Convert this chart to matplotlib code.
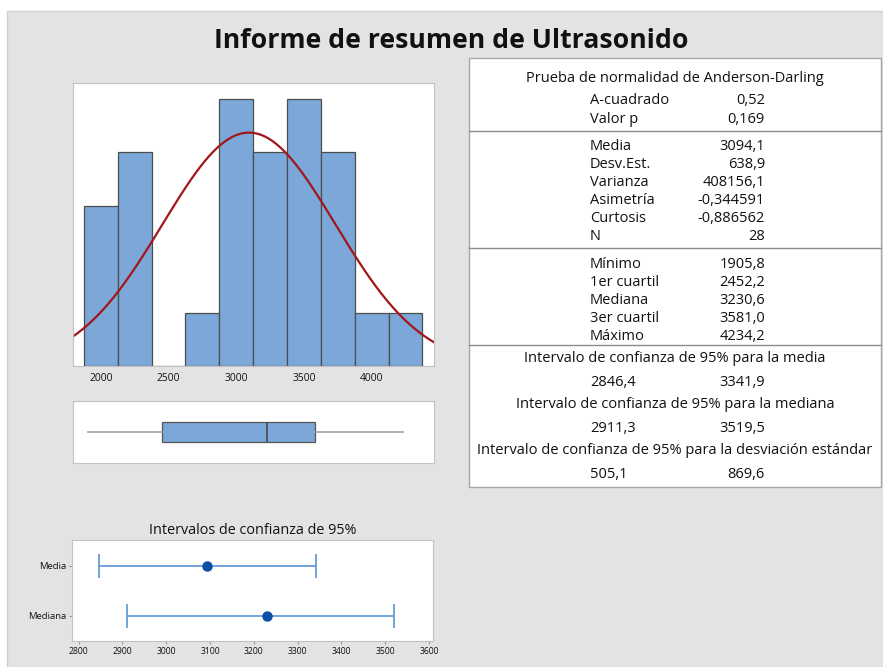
import numpy as np
import matplotlib
matplotlib.use("Agg")
import matplotlib.pyplot as plt
from matplotlib.patches import Rectangle

plt.rcParams['font.family'] = ['Open Sans', 'DejaVu Sans']

W, H = 883, 667

# Histogram (bins of 250)
bin_centers = [2000, 2250, 2500, 2750, 3000, 3250, 3500, 3750, 4000, 4250]
counts = [3, 4, 0, 1, 5, 4, 5, 4, 1, 1]
bin_width = 250

# summary stats
n_obs = 28
media = 3094.1
desv_est = 638.9
minimo, q1, mediana, q3, maximo = 1905.8, 2452.2, 3230.6, 3581.0, 4234.2
ic_media = (2846.4, 3341.9)
ic_mediana = (2911.3, 3519.5)

# table text
ad_rows = [("A-cuadrado", "0,52"), ("Valor p", "0,169")]
desc_rows = [("Media", "3094,1"), ("Desv.Est.", "638,9"), ("Varianza", "408156,1"),
             ("Asimetría", "-0,344591"), ("Curtosis", "-0,886562"), ("N", "28")]
quart_rows = [("Mínimo", "1905,8"), ("1er cuartil", "2452,2"), ("Mediana", "3230,6"),
              ("3er cuartil", "3581,0"), ("Máximo", "4234,2")]
ci_rows = [("Intervalo de confianza de 95% para la media", "2846,4", "3341,9"),
           ("Intervalo de confianza de 95% para la mediana", "2911,3", "3519,5"),
           ("Intervalo de confianza de 95% para la desviación estándar", "505,1", "869,6")]

ci_labels = ["Media", "Mediana"]

txt = '#111111'
bar_col = '#7ba7d9'
frame_col = '#c2c2c2'

fig = plt.figure(figsize=(W / 100, H / 100), dpi=100)


def px_axes(l, t, r, b, **kw):
    return fig.add_axes([l / W, 1 - b / H, (r - l) / W, (b - t) / H], **kw)


# background / title / table layer (pixel coords)
bg = fig.add_axes([0, 0, 1, 1], zorder=-1)
bg.set_xlim(0, W)
bg.set_ylim(H, 0)
bg.axis('off')
bg.add_patch(Rectangle((7, 11), W - 7, H - 11, facecolor='#e3e3e3',
                       edgecolor='#d0d0d0', lw=1))
bg.text(451, 41, "Informe de resumen de Ultrasonido", ha='center', va='center',
        fontsize=19.2, fontweight='bold', color=txt)

tl, tr = 469, 881
bg.add_patch(Rectangle((tl, 58), tr - tl, 429, facecolor='white',
                       edgecolor='#a6a6a6', lw=1))
fs = 10.5
lab_x, val_x, mid_x = 590, 765, 675
step = 18.2

bg.text(mid_x, 78, "Prueba de normalidad de Anderson-Darling", ha='center',
        va='center', fontsize=fs, color=txt)
for i, (k, v) in enumerate(ad_rows):
    y = 101 + i * step
    bg.text(lab_x, y, k, ha='left', va='center', fontsize=fs, color=txt)
    bg.text(val_x, y, v, ha='right', va='center', fontsize=fs, color=txt)
for i, (k, v) in enumerate(desc_rows):
    y = 146 + i * step
    bg.text(lab_x, y, k, ha='left', va='center', fontsize=fs, color=txt)
    bg.text(val_x, y, v, ha='right', va='center', fontsize=fs, color=txt)
for i, (k, v) in enumerate(quart_rows):
    y = 264 + i * step
    bg.text(lab_x, y, k, ha='left', va='center', fontsize=fs, color=txt)
    bg.text(val_x, y, v, ha='right', va='center', fontsize=fs, color=txt)
for i, (head, lo, hi) in enumerate(ci_rows):
    y = 359 + i * 46
    bg.text(mid_x, y, head, ha='center', va='center', fontsize=fs, color=txt)
    bg.text(lab_x, y + 23, lo, ha='left', va='center', fontsize=fs, color=txt)
    bg.text(val_x, y + 23, hi, ha='right', va='center', fontsize=fs, color=txt)
for y in [130.5, 247.5, 345]:
    bg.plot([tl, tr], [y, y], color='#8c8c8c', lw=1)

# histogram with fitted normal
xlim = (1795, 4460)
ax = px_axes(73, 83, 434, 366)
ax.bar(bin_centers, counts, width=bin_width, color=bar_col, edgecolor='#4d4d4d', lw=0.9)
xs = np.linspace(*xlim, 400)
ys = n_obs * bin_width * np.exp(-0.5 * ((xs - media) / desv_est) ** 2) / (desv_est * np.sqrt(2 * np.pi))
ax.plot(xs, ys, color='#a3161c', lw=1.6)
ax.set_xlim(*xlim)
ax.set_ylim(0, 5.3)
ax.set_yticks([])
ax.set_xticks([2000, 2500, 3000, 3500, 4000])
ax.tick_params(axis='x', length=0, pad=5, labelsize=7.4, labelcolor=txt)
for s in ax.spines.values():
    s.set_color(frame_col)

# boxplot
axb = px_axes(73, 401, 434, 463)
stats = [dict(med=mediana, q1=q1, q3=q3, whislo=minimo, whishi=maximo)]
axb.bxp(stats, positions=[0], widths=1, orientation='horizontal', showcaps=False,
        showfliers=False, patch_artist=True,
        boxprops=dict(facecolor=bar_col, edgecolor='#555555', lw=0.9),
        whiskerprops=dict(color='#a0a0a0', lw=1.2),
        medianprops=dict(color='#444444', lw=1.1))
axb.set_xlim(*xlim)
axb.set_ylim(-1.5, 1.5)
axb.set_xticks([])
axb.set_yticks([])
for s in axb.spines.values():
    s.set_color(frame_col)

# confidence intervals
axc = px_axes(72, 540, 433, 641)
centers = [media, mediana]
ints = [ic_media, ic_mediana]
ypos = [1, 0]
for c, (lo, hi), yy in zip(centers, ints, ypos):
    axc.errorbar(c, yy, xerr=[[c - lo], [hi - c]], fmt='o', color='#5b93d3',
                 ecolor='#5b93d3', elinewidth=1.2, capsize=8.5, capthick=1.2,
                 markersize=6.5, markerfacecolor='#0a4fa3', markeredgecolor='#0a4fa3')
axc.set_xlim(2785, 3609)
axc.set_ylim(-0.51, 1.52)
axc.set_yticks(ypos)
axc.set_yticklabels(ci_labels)
axc.set_xticks(np.arange(2800, 3601, 100))
axc.tick_params(axis='x', length=2.5, pad=2, labelsize=6.2, labelcolor=txt, color='#999999')
axc.tick_params(axis='y', length=2.5, pad=1.5, labelsize=6.8, labelcolor=txt, color='#999999')
axc.set_title("Intervalos de confianza de 95%", fontsize=10.4, color=txt, pad=4)
for s in axc.spines.values():
    s.set_color(frame_col)

fig.savefig("out.png", dpi=100)
